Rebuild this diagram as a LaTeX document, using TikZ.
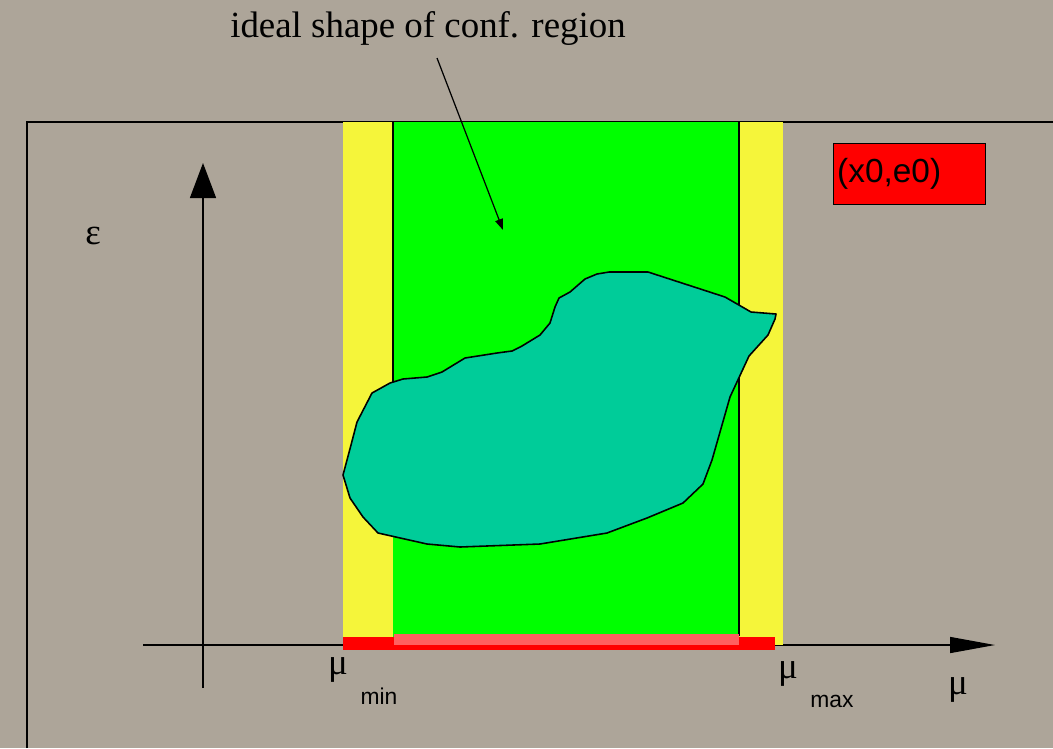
\documentclass[tikz,border=0pt]{standalone}
\usepackage{fontspec}
\setmainfont{Liberation Serif}
\setsansfont{Liberation Sans}
\usetikzlibrary{arrows.meta}
\definecolor{paper}{HTML}{ADA599}
\definecolor{bandyellow}{HTML}{F5F53A}
\definecolor{bandgreen}{HTML}{00FF00}
\definecolor{blobteal}{HTML}{00CC99}
\definecolor{barpink}{HTML}{FF6060}

\begin{document}
\begin{tikzpicture}[
  x=0.02cm, y=-0.02cm,
  band/.style={fill=#1, draw=none},
  axis/.style={line width=0.8pt},
  big_lbl/.style={font=\fontsize{21}{23}\selectfont, inner sep=0pt},
  sub_lbl/.style={font=\fontsize{13}{15}\selectfont\sffamily, inner sep=0pt},
  blob/.style={fill=blobteal, draw=black, line width=0.9pt, line join=round},
]
% paper
\useasboundingbox (0,0) rectangle (1053,748);
\fill[paper] (0,0) rectangle (1053,748);
\draw[line width=0.6pt] (27,748) -- (27,122) -- (1053,122);

% axes
\coordinate (origin) at (203,645);
\coordinate (xstart) at (143,645);
\coordinate (xend) at (995,645);
\coordinate (ystart) at (203,688);
\coordinate (yend) at (203,163);
\draw[axis, -{Triangle[length=0.9cm, width=0.32cm]}] (xstart) -- (xend);
\draw[axis, -{Triangle[length=0.7cm, width=0.52cm]}] (ystart) -- (yend);

% bands
\fill[band=bandyellow] (343,122) rectangle (783,645);
\fill[band=bandgreen] (393,122) rectangle (739,637);
\draw[line width=0.8pt] (393,122) -- (393,385);
\draw[line width=0.8pt] (739,122) -- (739,636);

% the region
\draw[blob] (343,475) -- (350,498) -- (363,517) -- (378,533) -- (427,544)
  -- (460,547) -- (540,544) -- (607,533) -- (647,518) -- (683,503)
  -- (703,484) -- (712,460) -- (730,397) -- (749,356) -- (768,335)
  -- (775,319) -- (776,314) -- (751,312) -- (725,297) -- (648,272)
  -- (609,272) -- (597,274) -- (585,279) -- (570,292) -- (559,298)
  -- (555,307) -- (550,323) -- (540,335) -- (522,346) -- (512,351)
  -- (497,353) -- (465,358) -- (442,372) -- (427,377) -- (403,379)
  -- (390,383) -- (372,393) -- (357,422) -- (351,445) -- cycle;

% interval bars
\fill[band=red] (343,637) rectangle (775,650);
\fill[band=barpink] (394,634) rectangle (739,645);

% labels
\node[big_lbl] (eps) at (93,236) {ε};
\node[big_lbl] (mumin) at (338,670) {μ};
\node[sub_lbl] (minlbl) at (379,696) {min};
\node[big_lbl] (mumax) at (788,674) {μ};
\node[sub_lbl] (maxlbl) at (832,701) {max};
\node[big_lbl] (mu) at (958,690) {μ};

\node[draw=black, fill=red, line width=0.8pt, anchor=north west,
  minimum width=3.04cm, minimum height=1.22cm, text width=2.9cm,
  inner xsep=2pt, align=left, font=\fontsize{19}{21}\selectfont\sffamily]
  (start) at (833,143) {(x0,e0)};

% title and pointer
\node[font=\fontsize{21}{23}\selectfont, inner sep=0pt] (title) at (428,28) {ideal shape of conf. region};
\coordinate (tail) at (437,58);
\coordinate (tip) at (503,230);
\draw[line width=0.7pt, -{Triangle[length=0.22cm, width=0.16cm]}] (tail) -- (tip);
\end{tikzpicture}
\end{document}
